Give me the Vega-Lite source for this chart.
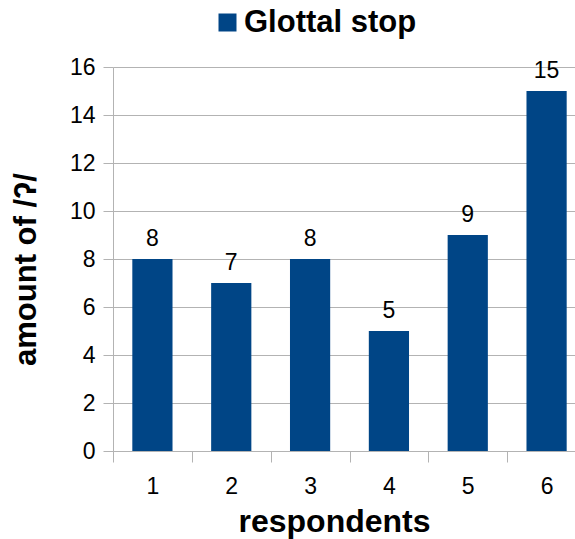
{
  "$schema": "https://vega.github.io/schema/vega-lite/v6.json",
  "width": 462,
  "height": 384,
  "autosize": "none",
  "padding": {"left": 113, "top": 67, "right": 0, "bottom": 88},
  "background": "white",
  "config": {
    "view": {"stroke": null},
    "font": "Liberation Sans"
  },
  "data": {
    "values": [
      {"respondent": "1", "count": 8, "series": "Glottal stop"},
      {"respondent": "2", "count": 7, "series": "Glottal stop"},
      {"respondent": "3", "count": 8, "series": "Glottal stop"},
      {"respondent": "4", "count": 5, "series": "Glottal stop"},
      {"respondent": "5", "count": 9, "series": "Glottal stop"},
      {"respondent": "6", "count": 15, "series": "Glottal stop"}
    ]
  },
  "encoding": {
    "x": {
      "field": "respondent",
      "type": "ordinal",
      "scale": {"paddingInner": 0, "paddingOuter": 0, "range": [0, 473]},
      "axis": {
        "title": "respondents",
        "labelAngle": 0,
        "tickBand": "extent",
        "tickSize": 11,
        "tickColor": "#b3b3b3",
        "domainColor": "#b3b3b3",
        "labelFontSize": 23,
        "labelColor": "#000000",
        "labelPadding": 13,
        "titleFontSize": 32,
        "titleFontWeight": "bold",
        "titleColor": "#000000",
        "titlePadding": 8,
        "titleX": 221,
        "grid": false
      }
    },
    "y": {
      "field": "count",
      "type": "quantitative",
      "scale": {"domain": [0, 16], "nice": false},
      "axis": {
        "title": "amount of /ʔ/",
        "values": [0, 2, 4, 6, 8, 10, 12, 14, 16],
        "tickSize": 10,
        "tickColor": "#b3b3b3",
        "domainColor": "#b3b3b3",
        "grid": true,
        "gridColor": "#b3b3b3",
        "labelFontSize": 23,
        "labelColor": "#000000",
        "labelPadding": 8,
        "titleFontSize": 31,
        "titleFontWeight": "bold",
        "titleColor": "#000000",
        "titleBaseline": "alphabetic",
        "titleX": -78,
        "titleY": 202
      }
    }
  },
  "layer": [
    {
      "mark": {"type": "bar", "width": {"band": 0.51}},
      "encoding": {
        "color": {
          "field": "series",
          "type": "nominal",
          "scale": {"range": ["#004586"]},
          "legend": {
            "title": null,
            "orient": "none",
            "legendX": 99,
            "legendY": -60,
            "symbolType": "square",
            "symbolSize": 324,
            "symbolStrokeWidth": 0,
            "symbolOpacity": 1,
            "labelFontSize": 31,
            "labelFontWeight": "bold",
            "labelColor": "#000000",
            "labelOffset": 1,
            "labelLimit": 0
          }
        }
      }
    },
    {
      "mark": {"type": "text", "baseline": "alphabetic", "dy": -13, "fontSize": 23, "color": "#000000"},
      "encoding": {"text": {"field": "count", "type": "quantitative"}}
    }
  ]
}
